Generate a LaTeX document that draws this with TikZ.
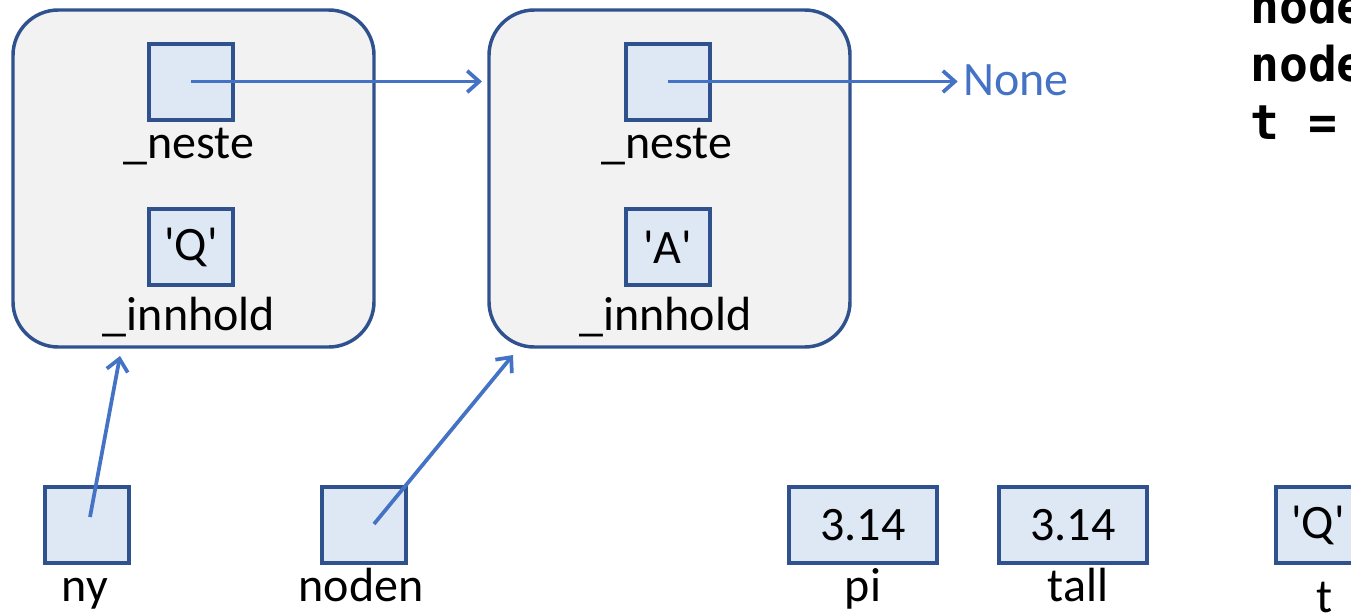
\documentclass[tikz,border=0pt]{standalone}
\usepackage{fontspec}
\setmainfont{Carlito}
\newfontfamily\qfont{Carlito}
\newfontfamily\codefont{DejaVu Sans Mono}
\usetikzlibrary{arrows.meta}
\definecolor{edgeblue}{HTML}{2F528F}
\definecolor{cellfill}{HTML}{DEE8F5}
\definecolor{objfill}{HTML}{F2F2F2}
\definecolor{arrowblue}{HTML}{4472C4}
\begin{document}
\begin{tikzpicture}[x=0.75pt,y=-0.75pt,
  every node/.style={font=\fontsize{36}{43}\selectfont, inner sep=0pt},
  objbox/.style={draw=edgeblue, fill=objfill, line width=2.6pt, rounded corners=34pt,
    minimum width=270.75pt, minimum height=252.75pt},
  cell/.style={draw=edgeblue, fill=cellfill, line width=3pt,
    minimum width=63pt, minimum height=57pt},
  widecell/.style={cell, minimum width=111pt},
  lbl/.style={anchor=base},
  ptr/.style={draw=arrowblue, line width=2.8pt,
    -{Straight Barb[length=9pt,width=16pt,line width=2.8pt]}},
  code/.style={anchor=base west, font=\codefont\bfseries\fontsize{36}{43}\selectfont}]
\useasboundingbox (0,0) rectangle (1351,614);
\clip (0,0) rectangle (1351,614);

% objects
\node[objbox] (obj1) at (193.5,178.5) {};
\node[objbox] (obj2) at (669.5,178.5) {};

\node[cell] (neste1) at (191,81.5) {};
\node[lbl] (nestelbl1) at (189,158) {\_neste};
\node[cell] (inn1) at (191,247) {\qfont 'Q'};
\node[lbl] (innlbl1) at (189,330) {\_innhold};

\node[cell] (neste2) at (667.5,81.5) {};
\node[lbl] (nestelbl2) at (666.5,158) {\_neste};
\node[cell] (inn2) at (667.5,247) {\qfont 'A'};
\node[lbl] (innlbl2) at (665.5,330) {\_innhold};

\node[anchor=base west, text=arrowblue] (none) at (963,95) {None};

% variables
\node[cell] (ny) at (86.5,525) {};
\node[lbl] (nylbl) at (85,601) {ny};
\node[cell] (noden) at (364,525) {};
\node[lbl] (nodenlbl) at (361,601) {noden};
\node[widecell] (pi) at (863,525) {3.14};
\node[lbl] (pilbl) at (863,601) {pi};
\node[widecell] (tall) at (1073,525) {3.14};
\node[lbl] (talllbl) at (1078,601) {tall};
\node[cell] (t) at (1318,525) {\qfont 'Q'};
\node[lbl] (tlbl) at (1325,612) {t};

% code
\node[code] (code1) at (1250,23) {node};
\node[code] (code2) at (1250,81) {node};
\node[code] (code3) at (1250,139) {t\ =};

% pointers
\coordinate (tip1) at (482,81.5);
\coordinate (tipny) at (120,356);
\coordinate (tipnoden) at (513,355);
\coordinate (startny) at (90,517);
\coordinate (startnoden) at (374,524);
\draw[ptr] (neste1.center) -- (tip1);
\draw[ptr] (neste2.center) -- ([xshift=-4pt]none.west |- neste2.center);
\draw[ptr] (startny) -- (tipny);
\draw[ptr] (startnoden) -- (tipnoden);
\end{tikzpicture}
\end{document}
